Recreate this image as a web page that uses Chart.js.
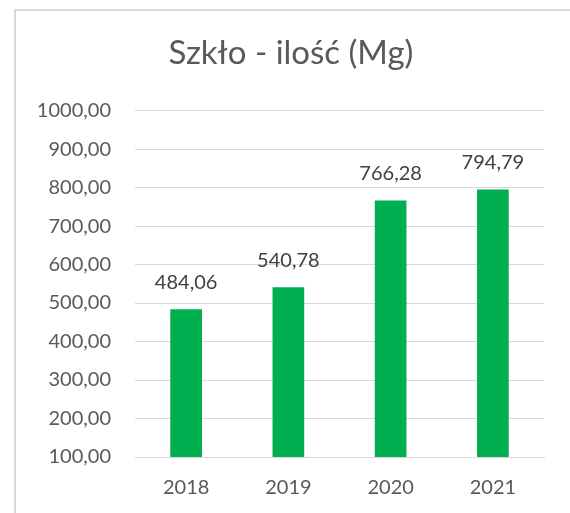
<!DOCTYPE html>
<html>
<head>
<meta charset="utf-8">
<script src="https://cdn.jsdelivr.net/npm/chart.js@4"></script>
<style>
  html, body { margin: 0; padding: 0; background: #fff; overflow: hidden; }
  .frame { position: absolute; left: 14px; top: 9px; width: 600px; height: 600px; border: 2px solid #d9d9d9; }
  canvas { position: absolute; left: 0; top: 0; }
</style>
</head>
<body>
<div class="frame"></div>
<canvas id="chart" width="570" height="513"></canvas>
<script>
const years = ["2018", "2019", "2020", "2021"];
const amounts = [484.06, 540.78, 766.28, 794.79];
const yMin = 100, yMax = 1000, yStep = 100;

const textGray = "#595959";
const fmt = (v) => Number(v).toFixed(2).replace(".", ",");

// values above the bars
const barValues = {
  id: "barValues",
  afterDatasetsDraw(chart) {
    const ctx = chart.ctx;
    const meta = chart.getDatasetMeta(0);
    ctx.save();
    ctx.font = "20px Lato";
    ctx.fillStyle = "#404040";
    ctx.textAlign = "center";
    ctx.textBaseline = "middle";
    meta.data.forEach((bar, i) => {
      ctx.fillText(fmt(amounts[i]), bar.x, bar.y - 27);
    });
    ctx.restore();
  }
};

new Chart(document.getElementById("chart"), {
  type: "bar",
  data: {
    labels: years,
    datasets: [{
      data: amounts,
      backgroundColor: "#00B050",
      barPercentage: 0.31,
      categoryPercentage: 1
    }]
  },
  plugins: [barValues],
  options: {
    responsive: false,
    animation: false,
    layout: { padding: { top: 0, right: 26, bottom: 0, left: 38 } },
    plugins: {
      legend: { display: false },
      tooltip: { enabled: false },
      title: {
        display: true,
        text: "Szkło - ilość (Mg)",
        color: textGray,
        font: { family: "Lato", size: 33, weight: "normal" },
        padding: { top: 34, bottom: 37 }
      }
    },
    scales: {
      x: {
        afterFit: (scale) => { scale.height = 56; },
        grid: { display: false, drawTicks: false },
        border: { display: true, color: "#d9d9d9", width: 1 },
        ticks: { color: textGray, font: { family: "Lato", size: 20 }, padding: 19 }
      },
      y: {
        min: yMin,
        max: yMax,
        afterFit: (scale) => { scale.width = 97; },
        grid: { color: "#d9d9d9", lineWidth: 1, drawTicks: false },
        border: { display: false },
        ticks: {
          stepSize: yStep,
          color: textGray,
          font: { family: "Lato", size: 20 },
          padding: 24,
          callback: (v) => fmt(v)
        }
      }
    }
  }
});
</script>
</body>
</html>
